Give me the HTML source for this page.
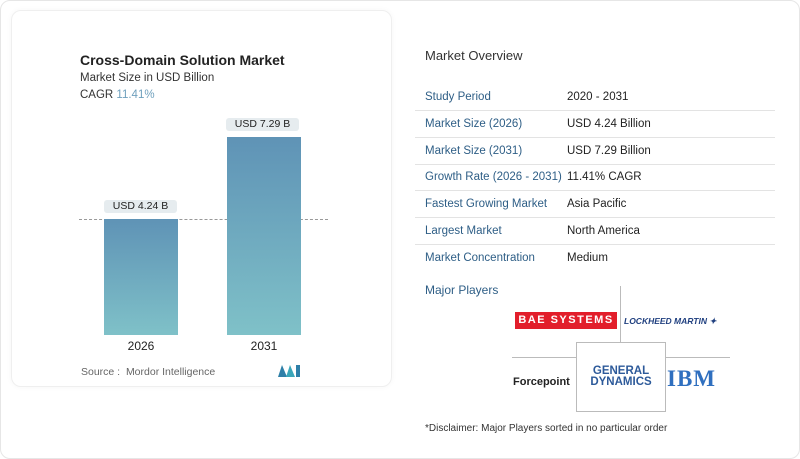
<!DOCTYPE html>
<html><head><meta charset="utf-8"><style>
body{margin:0;width:800px;height:459px;background:#fff;font-family:"Liberation Sans",sans-serif;position:relative;overflow:hidden}
.abs{position:absolute}
.outer{left:0;top:0;width:798px;height:457px;border:1px solid #e6e6e6;border-radius:10px}
.card{left:11px;top:10px;width:379px;height:375px;border:1px solid #efefef;border-radius:10px;box-shadow:0 0 6px rgba(0,0,0,0.04)}
.bar{background:linear-gradient(#5f93b6,#7fc1c8)}
.lbl{background:#e6ecef;border-radius:3px;font-size:10.5px;color:#222;text-align:center;line-height:13px}
.row{left:415px;width:360px;height:26px;border-bottom:1px solid #e3e3e3;font-size:11.5px;line-height:26px}
.row span{position:absolute}
.row .k{left:10px;color:#2e5e86}
.row .v{left:152px;color:#222}
</style></head><body>
<div class="abs outer"></div>
<div class="abs card"></div>
<div class="abs" style="left:80px;top:52px;font-size:14px;font-weight:bold;color:#222">Cross-Domain Solution Market</div>
<div class="abs" style="left:80px;top:72px;font-size:11.5px;color:#333">Market Size in USD Billion</div>
<div class="abs" style="left:80px;top:89px;font-size:11.5px;color:#333">CAGR <span style="color:#6fa0bd">11.41%</span></div>
<div class="abs" style="left:79px;top:219px;width:249px;border-top:1px dashed #999"></div>
<div class="abs bar" style="left:104px;top:219px;width:74px;height:116px"></div>
<div class="abs bar" style="left:227px;top:137px;width:74px;height:198px"></div>
<div class="abs lbl" style="left:104px;top:200px;width:73px">USD 4.24 B</div>
<div class="abs lbl" style="left:226px;top:118px;width:73px">USD 7.29 B</div>
<div class="abs" style="left:104px;top:339px;width:74px;text-align:center;font-size:12px;color:#222">2026</div>
<div class="abs" style="left:227px;top:339px;width:74px;text-align:center;font-size:12px;color:#222">2031</div>
<div class="abs" style="left:81px;top:366px;font-size:10.5px;color:#666">Source :&nbsp; Mordor Intelligence</div>
<svg class="abs" style="left:278px;top:365px" width="23" height="12"><polygon points="0,12 4,0 9,12" fill="#2e7fa8"/><polygon points="8,12 12,0 17,12" fill="#3aa6b9"/><rect x="18" y="0" width="4" height="12" fill="#2e7fa8"/></svg>

<div class="abs" style="left:425px;top:48px;font-size:13px;color:#333">Market Overview</div>
<div class="abs row" style="top:84px"><span class="k">Study Period</span><span class="v">2020 - 2031</span></div>
<div class="abs row" style="top:111px"><span class="k">Market Size (2026)</span><span class="v">USD 4.24 Billion</span></div>
<div class="abs row" style="top:138px"><span class="k">Market Size (2031)</span><span class="v">USD 7.29 Billion</span></div>
<div class="abs row" style="top:164px"><span class="k">Growth Rate (2026 - 2031)</span><span class="v">11.41% CAGR</span></div>
<div class="abs row" style="top:191px"><span class="k">Fastest Growing Market</span><span class="v">Asia Pacific</span></div>
<div class="abs row" style="top:218px"><span class="k">Largest Market</span><span class="v">North America</span></div>
<div class="abs row" style="top:245px;border-bottom:none"><span class="k">Market Concentration</span><span class="v">Medium</span></div>
<div class="abs" style="left:425px;top:283px;font-size:12px;color:#2e5e86">Major Players</div>

<div class="abs" style="left:620px;top:286px;height:57px;border-left:1px solid #bbb"></div>
<div class="abs" style="left:512px;top:357px;width:218px;border-top:1px solid #bbb"></div>
<div class="abs" style="left:576px;top:342px;width:88px;height:68px;border:1px solid #bbb;background:#fff"></div>
<div class="abs" style="left:515px;top:312px;width:102px;height:17px;background:#e21e2b;color:#fff;font-weight:bold;font-size:11px;line-height:17px;text-align:center;letter-spacing:1.5px">BAE SYSTEMS</div>
<div class="abs" style="left:624px;top:316px;font-size:8.5px;font-weight:bold;font-style:italic;color:#1f3f7f">LOCKHEED MARTIN ✦</div>
<div class="abs" style="left:513px;top:376px;font-size:11px;font-weight:bold;color:#222">Forcepoint</div>
<div class="abs" style="left:578px;top:366px;width:86px;text-align:center;font-size:11.5px;font-weight:bold;color:#2d5a9a;line-height:11px">GENERAL<br>DYNAMICS</div>
<div class="abs" style="left:667px;top:366px;font-size:23px;font-weight:bold;color:#2f6fbf;font-family:'Liberation Serif',serif;letter-spacing:1px">IBM</div>
<div class="abs" style="left:425px;top:423px;font-size:10px;color:#333">*Disclaimer: Major Players sorted in no particular order</div>
</body></html>
